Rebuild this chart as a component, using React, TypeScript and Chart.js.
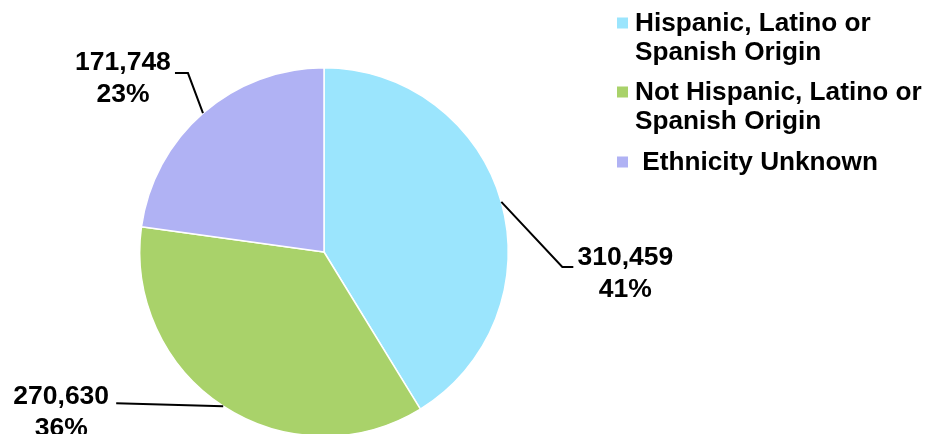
import React, { useEffect, useRef } from "react";
import { Chart, registerables } from "chart.js";

Chart.register(...registerables);

const categories = ["Hispanic, Latino or Spanish Origin", "Not Hispanic, Latino or Spanish Origin", "Ethnicity Unknown"];
const legendLines = [["Hispanic, Latino or", "Spanish Origin"], ["Not Hispanic, Latino or", "Spanish Origin"], [" Ethnicity Unknown"]];
const values = [310459, 270630, 171748];
const valueLabels = ["310,459", "270,630", "171,748"];
const percentLabels = ["41%", "36%", "23%"];
const colors = ["#9BE5FD", "#A9D26A", "#B0B2F4"];

const FONT = "bold 26.5px 'Liberation Sans', Arial, sans-serif";
const LFONT = "bold 26.2px 'Liberation Sans', Arial, sans-serif";

// leader-line geometry relative to each slice's outer mid-point
const leaders = [
  { elbow: [61, 65], end: [72, 65], text: [124, 56] },
  { elbow: [-107, -3], end: [-107, -3], text: [-162, -10] },
  { elbow: [-15, -40], end: [-28, -40], text: [-80, -50] },
];

const labelPlugin = {
  id: "sliceLabels",
  afterDatasetsDraw(chart: any) {
    const ctx = chart.ctx;
    const meta = chart.getDatasetMeta(0);
    ctx.save();
    meta.data.forEach((arc: any, i: number) => {
      const mid = (arc.startAngle + arc.endAngle) / 2;
      const ax = arc.x + Math.cos(mid) * arc.outerRadius;
      const ay = arc.y + Math.sin(mid) * arc.outerRadius;
      const L = leaders[i];
      ctx.strokeStyle = "#000";
      ctx.lineWidth = 2;
      ctx.beginPath();
      ctx.moveTo(ax, ay);
      ctx.lineTo(ax + L.elbow[0], ay + L.elbow[1]);
      ctx.lineTo(ax + L.end[0], ay + L.end[1]);
      ctx.stroke();
      ctx.fillStyle = "#000";
      ctx.font = FONT;
      ctx.textAlign = "center";
      ctx.textBaseline = "middle";
      ctx.fillText(valueLabels[i], ax + L.text[0], ay + L.text[1]);
      ctx.fillText(percentLabels[i], ax + L.text[0], ay + L.text[1] + 32);
    });
    ctx.restore();
  },
};

const legendPlugin = {
  id: "customLegend",
  afterDraw(chart: any) {
    const ctx = chart.ctx;
    ctx.save();
    ctx.font = LFONT;
    ctx.textBaseline = "alphabetic";
    ctx.textAlign = "left";
    const baselines = [31, 100, 170];
    legendLines.forEach((lines, i) => {
      ctx.fillStyle = colors[i];
      ctx.fillRect(617, baselines[i] - 13.5, 11, 11);
      ctx.fillStyle = "#000";
      lines.forEach((t, j) => {
        ctx.fillText(t, 635, baselines[i] + j * 29);
      });
    });
    ctx.restore();
  },
};

export default function App() {
  const ref = useRef<HTMLCanvasElement>(null);
  useEffect(() => {
    document.body.style.margin = "0";
    const chart = new Chart(ref.current!, {
      type: "pie",
      data: {
        labels: categories,
        datasets: [
          {
            data: values,
            backgroundColor: colors,
            borderColor: "#ffffff",
            borderWidth: 1.5,
          },
        ],
      },
      options: {
        animation: false,
        responsive: false,
        layout: { padding: { left: 139, right: 420, top: 67, bottom: 13 } },
        plugins: { legend: { display: false }, tooltip: { enabled: false } },
      },
      plugins: [labelPlugin, legendPlugin],
    });
    return () => chart.destroy();
  }, []);
  return (
    <div style={{ width: 929, height: 434, overflow: "hidden", background: "#fff" }}>
      <canvas ref={ref} width={929} height={450} style={{ display: "block" }} />
    </div>
  );
}
